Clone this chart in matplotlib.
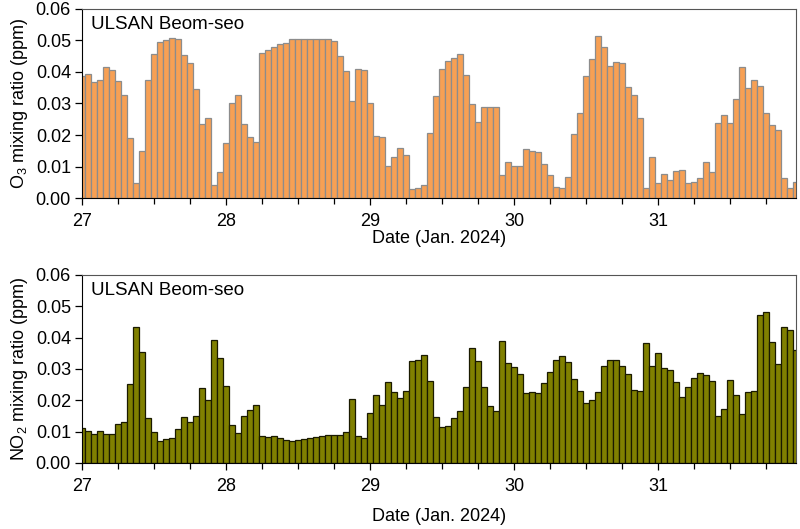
import numpy as np
import matplotlib
matplotlib.use('Agg')
import matplotlib.pyplot as plt
from matplotlib.ticker import MultipleLocator, FormatStrFormatter

plt.rcParams['font.family'] = ['Liberation Sans', 'DejaVu Sans']
plt.rcParams['mathtext.fontset'] = 'custom'
plt.rcParams['mathtext.rm'] = 'Liberation Sans'
plt.rcParams['mathtext.default'] = 'regular'

# hourly values, one row per day (27 .. 31 Jan 2024)
o3 = [0.0387, 0.0393, 0.0367, 0.0374, 0.0417, 0.0405, 0.0372, 0.0328, 0.0189, 0.0049, 0.0149, 0.0376,
      0.0457, 0.0496, 0.0503, 0.0508, 0.0504, 0.0455, 0.0429, 0.0345, 0.0236, 0.0255, 0.0040, 0.0083,
      0.0176, 0.0303, 0.0328, 0.0234, 0.0194, 0.0179, 0.0460, 0.0469, 0.0479, 0.0488, 0.0493, 0.0506,
      0.0506, 0.0506, 0.0506, 0.0506, 0.0506, 0.0506, 0.0499, 0.0451, 0.0402, 0.0308, 0.0411, 0.0407,
      0.0303, 0.0198, 0.0194, 0.0101, 0.0129, 0.0159, 0.0137, 0.0028, 0.0031, 0.0042, 0.0207, 0.0324,
      0.0411, 0.0436, 0.0446, 0.0456, 0.0392, 0.0299, 0.0240, 0.0289, 0.0289, 0.0289, 0.0072, 0.0113,
      0.0101, 0.0102, 0.0157, 0.0149, 0.0146, 0.0107, 0.0074, 0.0036, 0.0033, 0.0066, 0.0204, 0.0270,
      0.0387, 0.0442, 0.0515, 0.0480, 0.0420, 0.0433, 0.0429, 0.0352, 0.0328, 0.0255, 0.0033, 0.0129,
      0.0049, 0.0076, 0.0056, 0.0085, 0.0090, 0.0049, 0.0052, 0.0063, 0.0114, 0.0084, 0.0239, 0.0265,
      0.0237, 0.0315, 0.0417, 0.0349, 0.0376, 0.0354, 0.0270, 0.0233, 0.0217, 0.0063, 0.0033, 0.0052]

no2 = [0.0113, 0.0101, 0.0091, 0.0103, 0.0092, 0.0091, 0.0125, 0.0130, 0.0253, 0.0435, 0.0355, 0.0142,
       0.0100, 0.0070, 0.0075, 0.0079, 0.0107, 0.0147, 0.0130, 0.0149, 0.0239, 0.0200, 0.0394, 0.0334,
       0.0246, 0.0122, 0.0097, 0.0149, 0.0170, 0.0184, 0.0086, 0.0083, 0.0087, 0.0080, 0.0074, 0.0069,
       0.0074, 0.0077, 0.0079, 0.0084, 0.0087, 0.0089, 0.0088, 0.0090, 0.0100, 0.0205, 0.0087, 0.0079,
       0.0159, 0.0216, 0.0184, 0.0257, 0.0228, 0.0208, 0.0231, 0.0324, 0.0329, 0.0344, 0.0262, 0.0148,
       0.0115, 0.0118, 0.0145, 0.0165, 0.0241, 0.0366, 0.0324, 0.0241, 0.0183, 0.0165, 0.0389, 0.0320,
       0.0305, 0.0285, 0.0224, 0.0226, 0.0224, 0.0255, 0.0289, 0.0329, 0.0341, 0.0321, 0.0268, 0.0230,
       0.0193, 0.0200, 0.0226, 0.0311, 0.0328, 0.0328, 0.0308, 0.0285, 0.0234, 0.0230, 0.0383, 0.0309,
       0.0350, 0.0304, 0.0298, 0.0257, 0.0210, 0.0242, 0.0272, 0.0288, 0.0282, 0.0261, 0.0151, 0.0173,
       0.0265, 0.0218, 0.0157, 0.0227, 0.0229, 0.0473, 0.0481, 0.0386, 0.0316, 0.0434, 0.0424, 0.0361]

day_labels = ['27', '28', '29', '30', '31']
site = 'ULSAN Beom-seo'

hours = np.arange(len(o3))

fig = plt.figure(figsize=(8, 5.29), dpi=100)
ax1 = fig.add_axes([0.1025, 0.6257, 0.8925, 0.3573])
ax2 = fig.add_axes([0.1025, 0.1248, 0.8925, 0.3554])


def style(ax, ylab, xpad):
	ax.set_xlim(0, len(hours) - 1)
	ax.set_ylim(0, 0.06)
	ax.xaxis.set_minor_locator(MultipleLocator(6))
	ax.set_xticks(np.arange(len(day_labels)) * 24)
	ax.set_xticklabels(day_labels)
	ax.yaxis.set_major_locator(MultipleLocator(0.01))
	ax.yaxis.set_major_formatter(FormatStrFormatter('%.2f'))
	ax.tick_params(axis='both', which='major', direction='out', length=5, width=0.9, labelsize=13, pad=3)
	ax.tick_params(axis='x', which='minor', direction='out', length=4, width=0.9)
	ax.tick_params(axis='x', which='major', pad=6)
	for s in ['top', 'right']:
		ax.spines[s].set_color('#555555')
	ax.set_xlabel('Date (Jan. 2024)', fontsize=13, labelpad=xpad)
	ax.set_ylabel(ylab, fontsize=13, labelpad=4)
	ax.text(0.013, 0.965, site, transform=ax.transAxes, fontsize=13.5, va='top', ha='left')


ax1.bar(hours, o3, width=1.0, color='#F7A054', edgecolor='#8C8C8C', linewidth=0.9)
style(ax1, 'O$_3$ mixing ratio (ppm)', 0)

ax2.bar(hours, no2, width=1.0, color='#808000', edgecolor='#1A1A00', linewidth=0.9)
style(ax2, 'NO$_2$ mixing ratio (ppm)', 9)

plt.savefig('out.png', dpi=100)
